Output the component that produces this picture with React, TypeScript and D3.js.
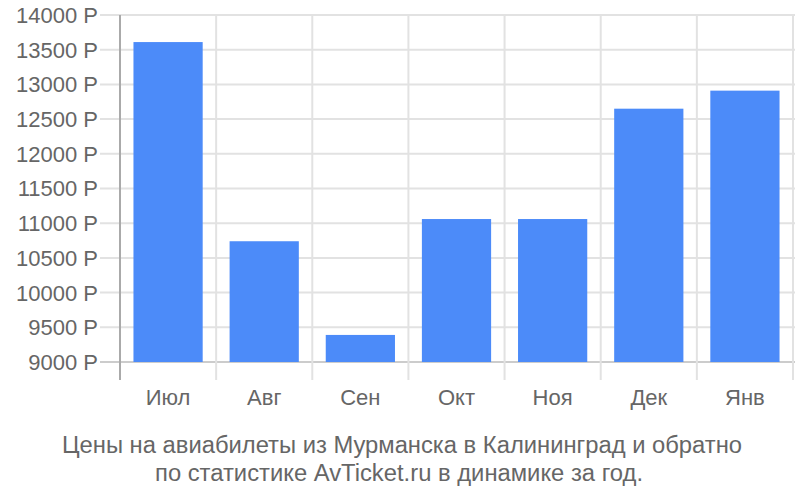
import * as d3 from "d3";

const months = ["Июл", "Авг", "Сен", "Окт", "Ноя", "Дек", "Янв"];
const prices = [13610, 10740, 9390, 11060, 11060, 12650, 12910];
const yTicks = [9000, 9500, 10000, 10500, 11000, 11500, 12000, 12500, 13000, 13500, 14000];
const captionLines = [
  "Цены на авиабилеты из Мурманска в Калининград и обратно",
  "по статистике AvTicket.ru в динамике за год.",
];
const captionWidths = [680, 488];

export default function App() {
  const width = 800;
  const height = 500;
  const left = 120;
  const right = 793;
  const top = 15;
  const baseline = 362;
  const axisBottom = 380;

  const x = d3.scaleBand<string>().domain(months).range([left, right]).paddingInner(0.28).paddingOuter(0.14);
  const y = d3.scaleLinear().domain([9000, 14000]).range([baseline, top]);
  const step = x.step();
  const bounds = d3.range(months.length + 1).map((i) => left + i * step);

  return (
    <svg
      width={width}
      height={height}
      style={{ position: "absolute", left: 0, top: 0, fontFamily: "'Liberation Sans', Arial, sans-serif" }}
    >
      {yTicks.map((t) => (
        <g key={t}>
          <line x1={100} x2={right + 2} y1={y(t)} y2={y(t)} stroke={t === 9000 ? "#cccccc" : "#e2e2e2"} strokeWidth={2} />
          <text x={98} y={y(t)} dy="0.36em" textAnchor="end" fontSize={22} fill="#666">
            {t} Р
          </text>
        </g>
      ))}
      {bounds.map((b, i) => (
        <line
          key={i}
          x1={b}
          x2={b}
          y1={top}
          y2={axisBottom}
          stroke={i === 0 ? "#aaaaaa" : "#e2e2e2"}
          strokeWidth={2}
        />
      ))}
      {months.map((m, i) => (
        <rect
          key={m}
          x={x(m)}
          y={y(prices[i])}
          width={x.bandwidth()}
          height={baseline - y(prices[i])}
          fill="#4c8bf9"
        />
      ))}
      {months.map((m) => (
        <text key={m} x={(x(m) ?? 0) + x.bandwidth() / 2} y={397} dy="0.36em" textAnchor="middle" fontSize={22} fill="#666">
          {m}
        </text>
      ))}
      {captionLines.map((line, i) => (
        <text
          key={i}
          x={i === 0 ? 402 : 399}
          y={445 + i * 28}
          dy="0.36em"
          textAnchor="middle"
          fontSize={23}
          fill="#666"
          textLength={captionWidths[i]}
          lengthAdjust="spacingAndGlyphs"
        >
          {line}
        </text>
      ))}
    </svg>
  );
}
